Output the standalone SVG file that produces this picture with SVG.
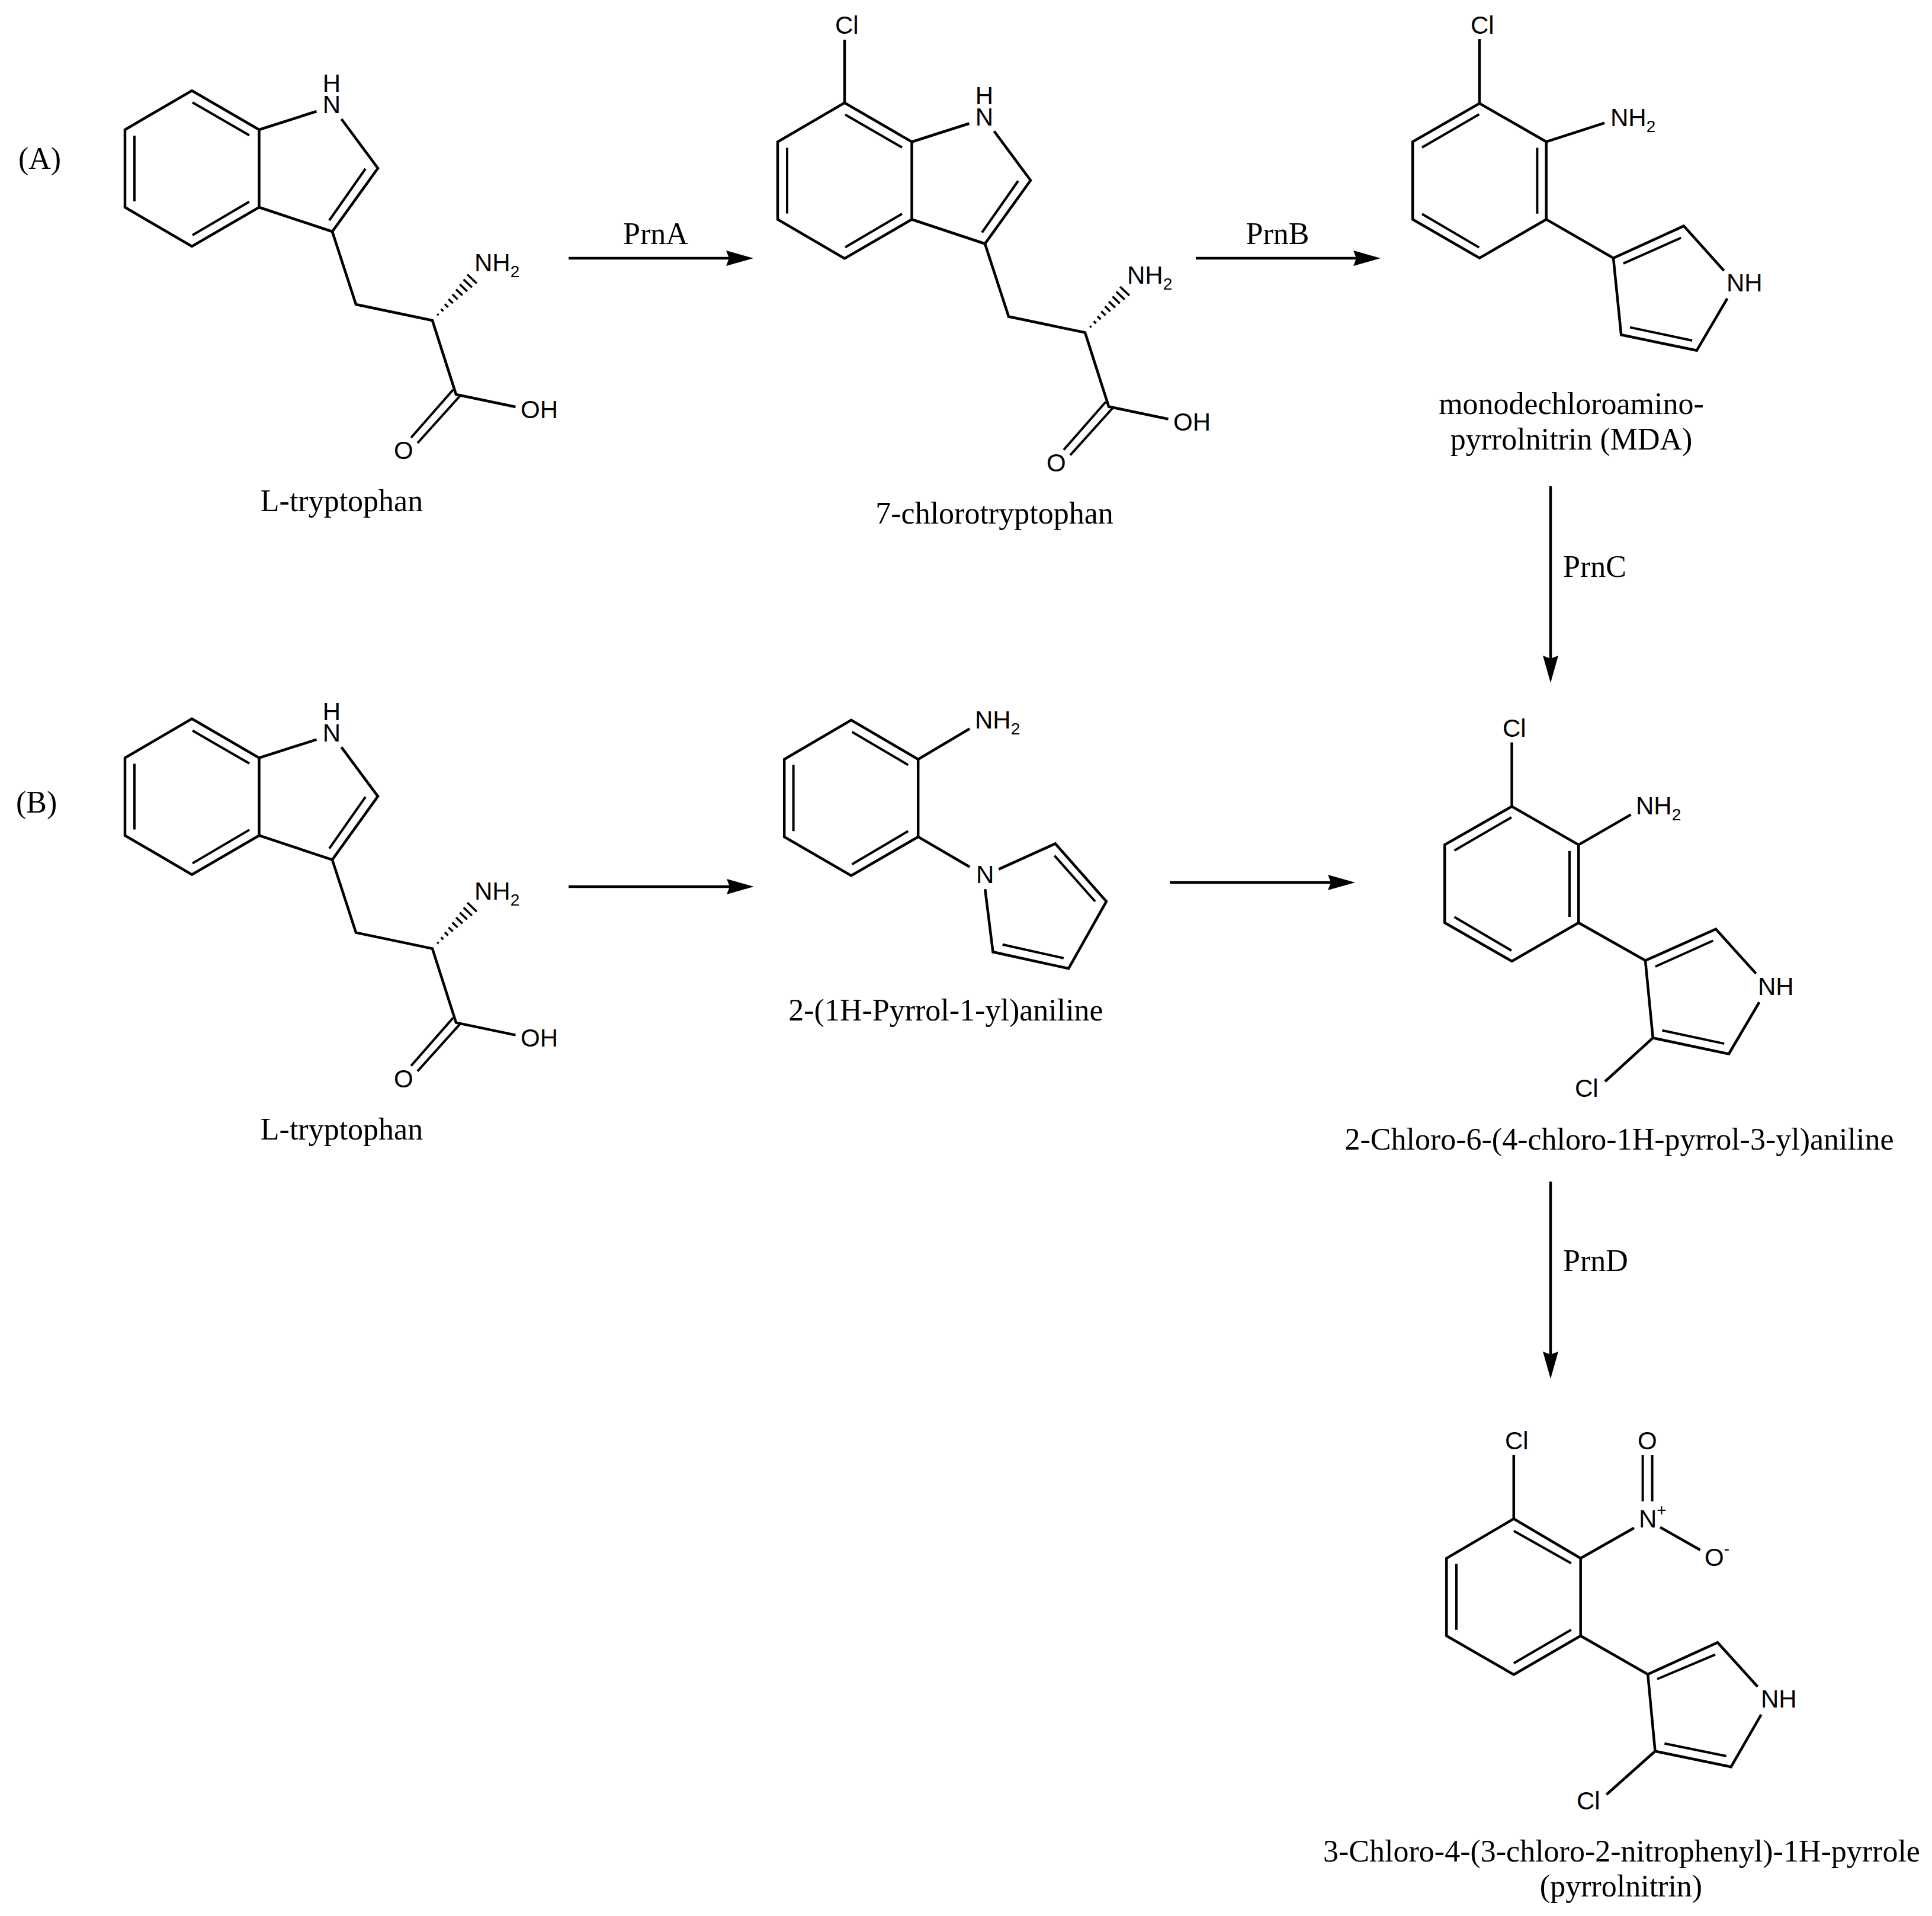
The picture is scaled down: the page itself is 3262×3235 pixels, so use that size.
<svg xmlns="http://www.w3.org/2000/svg" width="3262" height="3235" viewBox="0 0 3262 3235">
<style>
.b{fill:none;stroke:#000;stroke-width:4.5;stroke-linejoin:miter;stroke-linecap:butt}
.i{fill:none;stroke:#000;stroke-width:4;stroke-linecap:butt}
.a{font-family:"Liberation Sans",Arial,sans-serif;font-size:42px;fill:#000}
.s{font-size:28px}
.t{font-family:"Liberation Serif","Times New Roman",serif;font-size:52px;fill:#000}
.m{text-anchor:middle}
.c{fill:none;stroke:#000;stroke-width:4.5;marker-end:url(#head)}
</style>
<defs>
<marker id="head" markerUnits="userSpaceOnUse" markerWidth="46" markerHeight="26" refX="5" refY="13" orient="auto" viewBox="0 0 46 26">
<path d="M0 0L46 13L0 26L5 13Z" fill="#000"/>
</marker>
<path id="hash" fill="none" stroke="#000" stroke-width="3.5" d="M8.3 -10.9L10.5 -8.7M14.7 -19.2L18.5 -15.4M21 -27.6L26.6 -22.2M27.3 -35.9L34.7 -28.9M33.7 -44.2L42.7 -35.6M40 -52.5L50.8 -42.3M46.4 -60.9L58.8 -49.1M52.7 -69.3L66.9 -55.7M59.1 -77.6L74.9 -62.4"/>
</defs>
<rect width="3262" height="3235" fill="#fff"/>

<text class="t" x="31" y="285">(A)</text>
<text class="t" x="27" y="1372">(B)</text>

<g id="tryptophan-a">
<path class="b" d="M437.5 219L324 153L211 219V350L324 416L437.5 350ZM437.5 219L534.5 188M576.5 201L638 284L561 391L437.5 350M561 391L601 514L730 541L770 666L870.5 687"/>
<path class="i" d="M325 173L421 228.5M227 229V340M325 397L421 340.5M617 285L556 372M765 658L694 739M777 668L705 748"/>
<use href="#hash" x="730" y="541"/>
<text class="a m"><tspan x="560" y="155">H</tspan><tspan x="560" y="191">N</tspan></text>
<text class="a" x="801" y="458">NH<tspan class="s" dy="10">2</tspan></text>
<text class="a" x="879" y="706">OH</text>
<text class="a" x="665" y="775">O</text>
<text class="t m" x="577" y="863">L-tryptophan</text>
</g>

<g id="chlorotryptophan" transform="translate(1102 20.5)">
<path class="b" d="M437.5 219L324 153L211 219V350L324 416L437.5 350ZM437.5 219L534.5 188M576.5 201L638 284L561 391L437.5 350M561 391L601 514L730 541L770 666L870.5 687M324 153V46.5"/>
<path class="i" d="M325 173L421 228.5M227 229V340M325 397L421 340.5M617 285L556 372M765 658L694 739M777 668L705 748"/>
<use href="#hash" x="730" y="541"/>
<text class="a m"><tspan x="560" y="155">H</tspan><tspan x="560" y="191">N</tspan></text>
<text class="a" x="801" y="458">NH<tspan class="s" dy="10">2</tspan></text>
<text class="a" x="879" y="706">OH</text>
<text class="a" x="665" y="775">O</text>
<text class="a" x="308" y="36.5">Cl</text>
<text class="t m" x="577" y="863.5">7-chlorotryptophan</text>
</g>

<g id="mda">
<path class="b" d="M2610.7 239.3L2498 174.5L2385.2 239.3V370.4L2498 435.7L2610.7 370.4ZM2498 174.5V66M2610.7 239.3L2709 207.7M2610.7 370.4L2724 435.7L2842.9 381.6L2910.7 457M2916.3 504L2864.8 591.8L2737.2 565.3L2724 435.7"/>
<path class="i" d="M2497.4 192.9L2401 249M2595.4 249.5V360.7M2401 361.2L2497.4 417.9M2740.8 444.9L2838.3 401.5M2752 552.6L2857.1 575"/>
<text class="a" x="2483" y="57">Cl</text>
<text class="a" x="2719" y="213">NH<tspan class="s" dy="10">2</tspan></text>
<text class="a" x="2915" y="492">NH</text>
<text class="t m" x="2653" y="699">monodechloroamino-</text>
<text class="t m" x="2653" y="759">pyrrolnitrin (MDA)</text>
</g>

<g id="tryptophan-b" transform="translate(0 1060.6)">
<path class="b" d="M437.5 219L324 153L211 219V350L324 416L437.5 350ZM437.5 219L534.5 188M576.5 201L638 284L561 391L437.5 350M561 391L601 514L730 541L770 666L870.5 687"/>
<path class="i" d="M325 173L421 228.5M227 229V340M325 397L421 340.5M617 285L556 372M765 658L694 739M777 668L705 748"/>
<use href="#hash" x="730" y="541"/>
<text class="a m"><tspan x="560" y="155">H</tspan><tspan x="560" y="191">N</tspan></text>
<text class="a" x="801" y="458">NH<tspan class="s" dy="10">2</tspan></text>
<text class="a" x="879" y="706">OH</text>
<text class="a" x="665" y="775">O</text>
<text class="t m" x="577" y="863">L-tryptophan</text>
</g>

<g id="pyrrolyl-aniline">
<path class="b" d="M1550.2 1282L1437.2 1215.8L1324.2 1282V1412.9L1437.2 1478.4L1550.2 1412.9ZM1550.2 1282L1637.2 1230.4M1550.2 1412.9L1637.2 1463.8M1686.3 1467.6L1781.8 1424.4L1868 1522L1804.2 1635.3L1676.5 1607.3L1663.2 1501.3"/>
<path class="i" d="M1438.6 1235.7L1533.3 1291.6M1339.6 1291.6V1403.3M1438.6 1459.2L1533.3 1403.3M1780.4 1444.7L1849 1522M1692.6 1594.7L1795.8 1617.7"/>
<text class="a" x="1646" y="1230">NH<tspan class="s" dy="10">2</tspan></text>
<text class="a" x="1648" y="1491">N</text>
<text class="t m" x="1597" y="1723">2-(1H-Pyrrol-1-yl)aniline</text>
</g>

<g id="chloro-pyrrolyl-aniline">
<path class="b" d="M2665.3 1426.4L2552.6 1361.6L2439.3 1426.4V1558L2552.6 1622.9L2665.3 1558ZM2552.6 1361.6V1253.5M2665.3 1426.4L2753.6 1375.4M2665.3 1558L2778 1621.8L2897 1568.8L2964.8 1643.8M2970.4 1692.2L2918.9 1779.5L2790.8 1752.4L2778 1621.8M2790.8 1752.4L2710 1826"/>
<path class="i" d="M2552 1380L2455.6 1436M2650 1436.7V1548M2455.6 1548.2L2552 1605M2794.9 1632L2892.3 1588.2M2806.6 1739.7L2911.2 1762.1"/>
<text class="a" x="2537" y="1244">Cl</text>
<text class="a" x="2762" y="1375">NH<tspan class="s" dy="10">2</tspan></text>
<text class="a" x="2968" y="1680">NH</text>
<text class="a" x="2659" y="1852">Cl</text>
<text class="t m" x="2734" y="1941">2-Chloro-6-(4-chloro-1H-pyrrol-3-yl)aniline</text>
</g>

<g id="pyrrolnitrin">
<path class="b" d="M2668.7 2631L2555.8 2564.4L2442.3 2631V2762L2555.8 2827.4L2668.7 2762ZM2555.8 2564.4V2457M2668.7 2631L2759 2579.7M2803 2578.6L2870.6 2617M2668.7 2762L2782.2 2826.9L2900 2773.2L2967.5 2847.7M2973.6 2895L2922.7 2983.2L2794.5 2956.7L2782.2 2826.9M2794.5 2956.7L2712.3 3030"/>
<path class="i" d="M2555.8 2584.8L2652.8 2639.5M2459 2640.6V2751.8M2555.8 2808.2L2652.8 2751.8M2798 2835L2896 2793.6M2810.4 2943.7L2914.7 2965M2773.6 2535V2457M2789.6 2535V2457"/>
<text class="a" x="2541" y="2447">Cl</text>
<text class="a" x="2765" y="2447">O</text>
<text class="a" x="2767" y="2579">N<tspan class="s" dy="-20">+</tspan></text>
<text class="a" x="2878" y="2644">O<tspan class="s" dy="-20">-</tspan></text>
<text class="a" x="2973" y="2883">NH</text>
<text class="a" x="2662" y="3055">Cl</text>
<text class="t m" x="2738" y="3143">3-Chloro-4-(3-chloro-2-nitrophenyl)-1H-pyrrole</text>
<text class="t m" x="2737" y="3202">(pyrrolnitrin)</text>
</g>

<g id="connectors">
<line class="c" x1="960" y1="436" x2="1231" y2="436"/>
<line class="c" x1="2019" y1="436" x2="2290" y2="436"/>
<line class="c" x1="2618" y1="821" x2="2618" y2="1112"/>
<line class="c" x1="960" y1="1497" x2="1232" y2="1497"/>
<line class="c" x1="1975" y1="1490" x2="2247" y2="1490"/>
<line class="c" x1="2618" y1="1995" x2="2618" y2="2287"/>
</g>
<g id="connector-labels">
<text class="t m" x="1107" y="412">PrnA</text>
<text class="t m" x="2157" y="412">PrnB</text>
<text class="t" x="2639" y="974">PrnC</text>
<text class="t" x="2639" y="2146">PrnD</text>
</g>
</svg>
